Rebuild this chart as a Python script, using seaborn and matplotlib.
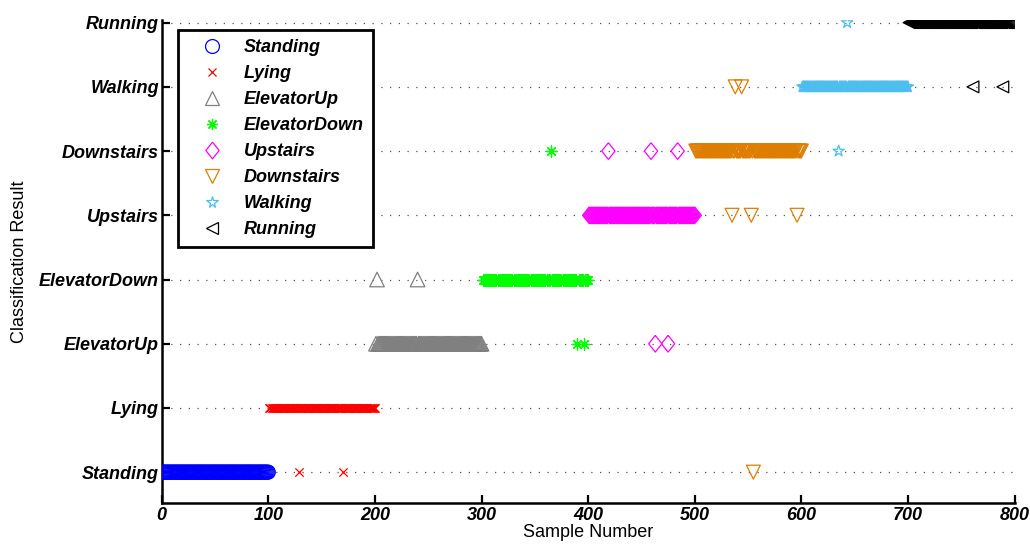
import numpy as np
import pandas as pd
import matplotlib
matplotlib.use("Agg")
import matplotlib.pyplot as plt
from matplotlib.lines import Line2D
import seaborn as sns

# activity classes, bottom to top on the y axis
classes = ["Standing", "Lying", "ElevatorUp", "ElevatorDown",
           "Upstairs", "Downstairs", "Walking", "Running"]
colors = ["#0000FF", "#FF0000", "#808080", "#00FF00",
          "#FF00FF", "#DE7E00", "#4DBEEE", "#000000"]
diamond = [(0, 1), (0.8, 0), (0, -1), (-0.8, 0), (0, 1)]
asterisk = (8, 2, 0)
markers = ["o", "x", "^", asterisk, diamond, "v", "*", "<"]
msizes = [10, 6, 10.5, 8, 12, 10, 8.5, 8.5]

# each class is recorded as one block of samples
block_start = [1, 101, 201, 301, 401, 501, 601, 701]
block_end = [100, 200, 300, 400, 500, 600, 700, 800]

# misclassified samples: sample number and the predicted class
miss_sample = [129, 170, 202, 240, 365, 390, 396, 419, 459, 463, 475, 484,
               535, 538, 544, 553, 555, 596, 635, 643, 761, 789]
miss_pred = ["Standing", "Standing", "ElevatorDown", "ElevatorDown",
             "Downstairs", "ElevatorUp", "ElevatorUp", "Downstairs",
             "Downstairs", "ElevatorUp", "ElevatorUp", "Downstairs",
             "Upstairs", "Walking", "Walking", "Upstairs", "Standing",
             "Upstairs", "Downstairs", "Running", "Walking", "Walking"]

rows = []
for name, a, b in zip(classes, block_start, block_end):
    for s in range(a, b + 1):
        rows.append((s, name, name))
df = pd.DataFrame(rows, columns=["sample", "true", "pred"])
df = df.set_index("sample")
df.loc[miss_sample, "pred"] = miss_pred
df = df.reset_index()
df["y"] = df["pred"].map({c: i + 1 for i, c in enumerate(classes)})

sns.set_style("ticks")
plt.rcParams["font.family"] = ["Liberation Sans", "DejaVu Sans"]
plt.rcParams["text.color"] = "black"
plt.rcParams["axes.labelcolor"] = "black"
plt.rcParams["xtick.color"] = "black"
plt.rcParams["ytick.color"] = "black"

fig = plt.figure(figsize=(10.3, 5.5), dpi=100)
ax = fig.add_axes([0.157, 0.0855, 0.828, 0.878])

for yv in range(1, 9):
    ax.axhline(yv, color="#555555", ls=(0, (1, 6)), lw=0.9, zorder=0)


def is_line_marker(m):
    return isinstance(m, str) and m == "x" or m == asterisk


for name, col, m, ms in zip(classes, colors, markers, msizes):
    sub = df[df["true"] == name]
    sns.scatterplot(data=sub, x="sample", y="y", ax=ax, color=col,
                    marker=m, s=ms ** 2, linewidth=0.9, zorder=3,
                    legend=False)
    pc = ax.collections[-1]
    pc.set_edgecolor(col)
    if is_line_marker(m):
        pc.set_facecolor(col)
    else:
        pc.set_facecolor("none")

ax.set_xlim(0, 800)
ax.set_ylim(0.52, 8.04)
ax.set_xticks(range(0, 801, 100))
ax.set_yticks(range(1, 9))
ax.set_yticklabels(classes)
for lab in ax.get_xticklabels() + ax.get_yticklabels():
    lab.set_fontweight("bold")
    lab.set_fontstyle("italic")
    lab.set_fontsize(13)
    lab.set_color("black")

ax.tick_params(direction="in", length=6, width=1.6, pad=3, colors="black")
ax.tick_params(axis="y", pad=2)
sns.despine(ax=ax)
for sp in ("left", "bottom"):
    ax.spines[sp].set_linewidth(1.8)
    ax.spines[sp].set_color("black")

ax.set_xlabel("Sample Number", fontsize=13, labelpad=0)
ax.set_ylabel("Classification Result", fontsize=13, labelpad=8)

handles = []
for name, col, m, ms in zip(classes, colors, markers, msizes):
    fill = col if is_line_marker(m) else "none"
    handles.append(Line2D([], [], ls="", marker=m, color=col, mfc=fill,
                          mec=col, ms=ms, mew=0.9, label=name))
leg = ax.legend(handles=handles, loc="upper left",
                bbox_to_anchor=(0.019, 0.979), frameon=True, fancybox=False,
                edgecolor="black", framealpha=1, borderpad=0.5,
                labelspacing=0.5, handlelength=2.8, handletextpad=0.35,
                borderaxespad=0,
                prop={"weight": "bold", "style": "italic", "size": 13})
leg.get_frame().set_linewidth(2)

fig.savefig("out.png", dpi=100)
plt.close(fig)
